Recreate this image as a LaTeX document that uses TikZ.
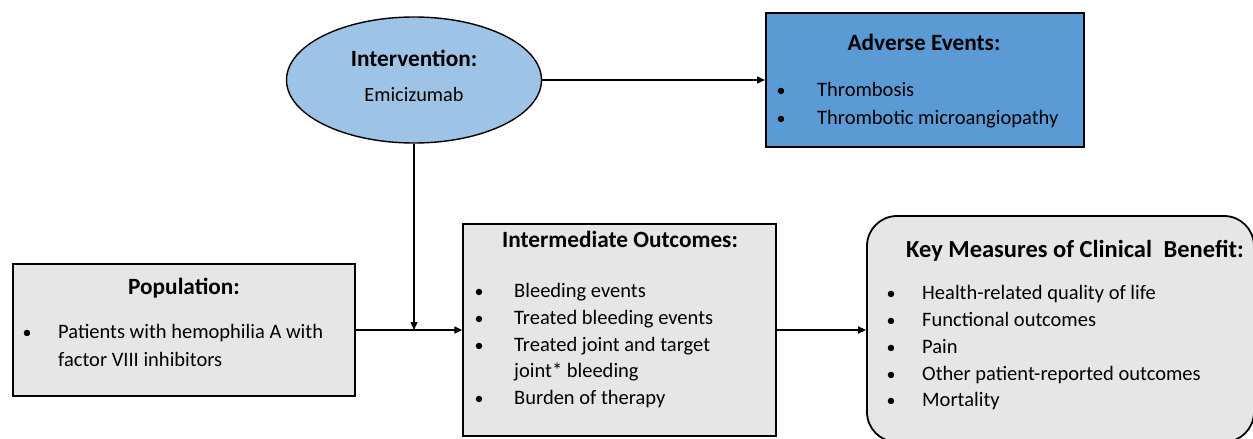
\documentclass[tikz,border=0pt]{standalone}
\usepackage{fontspec}
\setmainfont{Carlito}
\usetikzlibrary{shapes.geometric,arrows.meta}
\definecolor{ellblue}{HTML}{9DC3E6}
\definecolor{aeblue}{HTML}{5B9BD5}
\definecolor{boxgray}{HTML}{E7E6E6}
\tikzset{
  graybox/.style={draw=black, line width=1.4pt, fill=boxgray, inner sep=0pt},
  head/.style={font=\fontsize{23.3}{28}\selectfont\bfseries, inner sep=0pt, anchor=base},
  body/.style={font=\fontsize{20.5}{24}\selectfont, inner sep=0pt, anchor=base west},
  bul/.style={font=\fontsize{18}{22}\selectfont, inner sep=0pt, anchor=base},
  conn/.style={line width=1.3pt, -{Triangle[length=8pt,width=7pt]}},
}
\begin{document}
\begin{tikzpicture}[x=1pt,y=-1pt]
\useasboundingbox (0,0) rectangle (1253,439);
\begin{scope}
\clip (0,0) rectangle (1253,439);
% shapes
\node[ellipse, draw=black, line width=1.4pt, fill=ellblue, minimum width=255pt, minimum height=126pt, inner sep=0pt] (int) at (414,80) {};
\node[draw=black, line width=2pt, fill=aeblue, minimum width=318pt, minimum height=134pt, inner sep=0pt] (ae) at (925,80) {};
\node[graybox, minimum width=342pt, minimum height=132pt] (pop) at (184,330) {};
\node[graybox, minimum width=313pt, minimum height=212pt] (io) at (619.5,330) {};
\node[graybox, line width=1.8pt, rounded corners=30pt, minimum width=387pt, minimum height=226pt] (key) at (1060.5,329) {};
\end{scope}
\coordinate (join) at (414,330);
% connectors
\draw[conn] (int.east) -- (ae.west |- int.east);
\draw[conn] (int.south) -- (join);
\draw[conn] (pop.east) -- (io.west |- pop.east);
\draw[conn] (io.east) -- (key.west |- io.east);
% Intervention text
\node[head] (inth) at (414,66) {Intervention:};
\node[font=\fontsize{20.3}{24}\selectfont, inner sep=0pt, anchor=base] (intb) at (414,101) {Emicizumab};
% Adverse events
\node[head] (aeh) at (924,50) {Adverse Events:};
\node[bul] (aeb1) at (781,96) {•};
\node[body] (aet1) at (817,96) {Thrombosis};
\node[bul] (aeb2) at (781,124) {•};
\node[body] (aet2) at (817,124) {Thrombotic microangiopathy};
% Population
\node[head] (poph) at (184,294) {Population:};
\node[bul] (popb1) at (27,338) {•};
\node[body] (popt1) at (58,338) {Patients with hemophilia A with};
\node[body] (popt2) at (58,366) {factor VIII inhibitors};
% Intermediate outcomes
\node[head] (ioh) at (620,247) {Intermediate Outcomes:};
\node[bul] (iob1) at (479,297) {•};
\node[body] (iot1) at (514,297) {Bleeding events};
\node[bul] (iob2) at (479,324) {•};
\node[body] (iot2) at (514,324) {Treated bleeding events};
\node[bul] (iob3) at (479,351) {•};
\node[body] (iot3) at (514,351) {Treated joint and target};
\node[body] (iot4) at (514,377) {joint* bleeding};
\node[bul] (iob5) at (479,404) {•};
\node[body] (iot5) at (514,404) {Burden of therapy};
% Key measures
\node[head, font=\fontsize{24.5}{29}\selectfont\bfseries] (keyh) at (1075,257) {Key Measures of Clinical\hspace{6pt} Benefit:};
\node[bul] (kb1) at (891,299) {•};
\node[body] (kt1) at (922,299) {Health-related quality of life};
\node[bul] (kb2) at (891,326) {•};
\node[body] (kt2) at (922,326) {Functional outcomes};
\node[bul] (kb3) at (891,353) {•};
\node[body] (kt3) at (922,353) {Pain};
\node[bul] (kb4) at (891,380) {•};
\node[body] (kt4) at (922,380) {Other patient-reported outcomes};
\node[bul] (kb5) at (891,406) {•};
\node[body] (kt5) at (922,406) {Mortality};
\end{tikzpicture}
\end{document}
